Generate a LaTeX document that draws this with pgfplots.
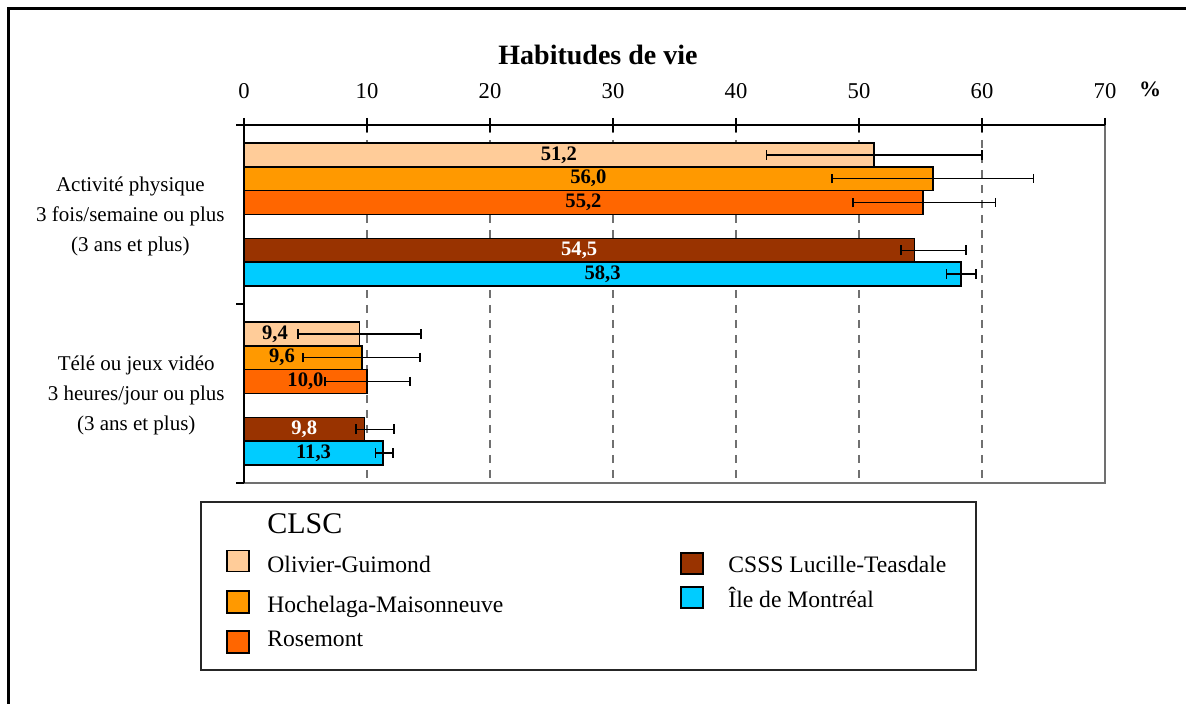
\documentclass[border=0pt]{standalone}
\usepackage{pgfplots}
\pgfplotsset{compat=1.18}
\usepackage{pgfplotstable}
\usepackage{fontspec}
\setmainfont{Liberation Serif}
\definecolor{cOG}{HTML}{FFCC99}
\definecolor{cHM}{HTML}{FF9900}
\definecolor{cRos}{HTML}{FF6600}
\definecolor{cCSSS}{HTML}{993300}
\definecolor{cMtl}{HTML}{00CCFF}
\definecolor{gridc}{HTML}{707070}

\pgfplotstableread{
y x ep em
1.25 51.2 8.8 8.7
8.75 9.4 5.0 5.0
}\tOG
\pgfplotstableread{
y x ep em
2.25 56.0 8.2 8.2
9.75 9.6 4.7 4.8
}\tHM
\pgfplotstableread{
y x ep em
3.25 55.2 5.9 5.7
10.75 10.0 3.5 3.4
}\tRos
\pgfplotstableread{
y x ep em
5.25 54.5 4.2 1.1
12.75 9.8 2.4 0.7
}\tCSSS
\pgfplotstableread{
y x ep em
6.25 58.3 1.2 1.2
13.75 11.3 0.8 0.6
}\tMtl

\pgfplotsset{
  mybar/.style={xbar, bar shift=0pt, bar width=1, fill=#1, draw=black, line width=0.8pt,
    error bars/.cd, x dir=both, x explicit,
    error mark=|,
    error bar style={black, line width=0.7pt},
    error mark options={black, line width=0.7pt, mark size=2.4pt}},
}

\begin{document}
\begin{tikzpicture}[x=0.5pt,y=0.5pt]
\useasboundingbox (0,0) rectangle (1186,704);
% outer frame (partially visible)
\draw[line width=1.5pt] (8.5,0) -- (8.5,695.5) -- (1186,695.5);
% title and unit
\node[anchor=base, font=\bfseries\fontsize{14}{16}\selectfont] at (598,639) {Habitudes de vie};
\node[anchor=base, font=\bfseries\fontsize{11}{13}\selectfont] at (1150,607) {\%};

\begin{axis}[
  scale only axis,
  width=430.5pt, height=179pt,
  at={(122pt,110.5pt)}, anchor=south west,
  xmin=0, xmax=70, ymin=0, ymax=15,
  y dir=reverse,
  axis line style={draw=none},
  xtick={0,10,...,70},
  xtick pos=upper, xticklabel pos=upper,
  ytick=\empty,
  tick align=center,
  major tick length=7pt,
  x tick style={black, line width=0.6pt},
  xmajorgrids,
  grid style={gridc, line width=0.6pt, dash pattern=on 4pt off 3.5pt},
  xticklabel style={font=\fontsize{11.3}{13}\selectfont, anchor=base, yshift=9.5pt},
  /pgf/number format/assume math mode=true,
  clip=false,
]
\addplot[mybar=cOG] table[x=x, y=y, x error plus=ep, x error minus=em] {\tOG};
\addplot[mybar=cHM] table[x=x, y=y, x error plus=ep, x error minus=em] {\tHM};
\addplot[mybar=cRos] table[x=x, y=y, x error plus=ep, x error minus=em] {\tRos};
\addplot[mybar=cCSSS] table[x=x, y=y, x error plus=ep, x error minus=em] {\tCSSS};
\addplot[mybar=cMtl] table[x=x, y=y, x error plus=ep, x error minus=em] {\tMtl};

% axis frame
\draw[gridc, line width=0.8pt] (axis cs:0,15) -- (axis cs:70,15) -- (axis cs:70,0);
\draw[black, line width=0.6pt] (axis cs:70,0) -- (axis cs:0,0) -- (axis cs:0,15);
\draw[black, line width=0.6pt] (axis cs:0,0) -- ++(-4pt,0);
\draw[black, line width=0.6pt] (axis cs:0,7.5) -- ++(-4pt,0);
\draw[black, line width=0.6pt] (axis cs:0,15) -- ++(-4pt,0);

% value labels
\begin{scope}[every node/.style={font=\bfseries\fontsize{10.3}{12}\selectfont, inner sep=0pt}]
\node at (axis cs:25.6,1.25) {51,2};
\node at (axis cs:28.0,2.25) {56,0};
\node at (axis cs:27.6,3.25) {55,2};
\node[text=white] at (axis cs:27.25,5.25) {54,5};
\node at (axis cs:29.15,6.25) {58,3};
\node at (axis cs:2.52,8.75) {9,4};
\node at (axis cs:3.09,9.75) {9,6};
\node at (axis cs:5.0,10.75) {10,0};
\node[text=white] at (axis cs:4.9,12.75) {9,8};
\node at (axis cs:5.65,13.75) {11,3};
\end{scope}
\end{axis}

% category labels
\begin{scope}[every node/.style={anchor=east, align=center, inner sep=0pt, font=\fontsize{10.5}{15}\selectfont}]
\node at (225,488) {Activité physique\\3 fois/semaine ou plus\\(3 ans et plus)};
\node at (225,309) {Télé ou jeux vidéo\\3 heures/jour ou plus\\(3 ans et plus)};
\end{scope}

% legend
\draw[line width=1pt, black!85] (201,202) rectangle (976,34);
\node[anchor=base west, inner sep=0pt, font=\fontsize{15}{17}\selectfont] at (267,170) {CLSC};
\begin{scope}[every node/.style={anchor=base west, inner sep=0pt, font=\fontsize{11.8}{14}\selectfont}]
\filldraw[fill=cOG, draw=black, line width=0.8pt] (227,132.5) rectangle (249,153.5);
\node at (267,131) {Olivier-Guimond};
\filldraw[fill=cHM, draw=black, line width=0.8pt] (227,91) rectangle (249,113);
\node at (267,91) {Hochelaga-Maisonneuve};
\filldraw[fill=cRos, draw=black, line width=0.8pt] (227,51) rectangle (249,73);
\node at (267,57) {Rosemont};
\filldraw[fill=cCSSS, draw=black, line width=0.8pt] (681,130) rectangle (703,151);
\node at (728,131) {CSSS Lucille-Teasdale};
\filldraw[fill=cMtl, draw=black, line width=0.8pt] (681,96) rectangle (703,117);
\node at (728,96) {Île de Montréal};
\end{scope}
\end{tikzpicture}
\end{document}
